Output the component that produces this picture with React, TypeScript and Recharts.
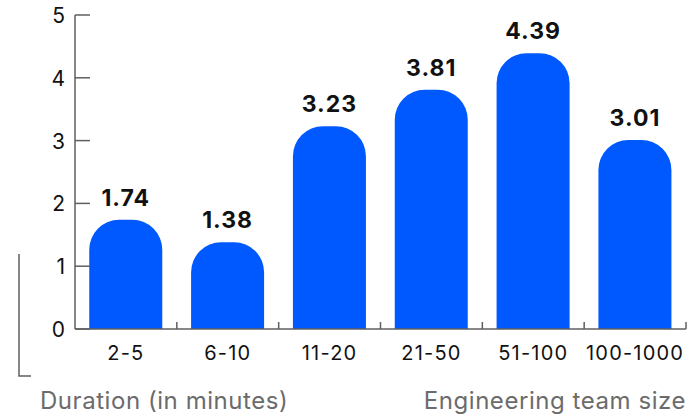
import React from "react";
import { BarChart, Bar, XAxis, YAxis, LabelList } from "recharts";

const teamSizes = ["2-5", "6-10", "11-20", "21-50", "51-100", "100-1000"];
const durations = [1.74, 1.38, 3.23, 3.81, 4.39, 3.01];
const yTicks = [0, 1, 2, 3, 4, 5];

const data = teamSizes.map((size, i) => ({ size, duration: durations[i] }));

const FONT = "Inter, 'Noto Sans', sans-serif";
const AXIS = "#5f5f5f";
const BLUE = "#0058ff";

// y ticks: label on the left, tick mark pointing into the plot
const YTick = (props: any) => {
  const { x, y, payload } = props;
  return (
    <g>
      <text x={x} y={y} dy={8} textAnchor="end" fontSize={21} fill="#111" fontFamily={FONT}>
        {payload.value}
      </text>
      <line x1={x + 10} x2={x + 25} y1={y} y2={y} stroke={AXIS} strokeWidth={1.5} />
    </g>
  );
};

// x ticks: label at band centre, short upward tick at the band's right edge
const XTick = (props: any) => {
  const { x, y, payload, width } = props;
  const half = (width || 611) / teamSizes.length / 2;
  return (
    <g>
      <text
        x={x}
        y={y}
        dy={21}
        textAnchor="middle"
        fontSize={20}
        letterSpacing={1.2}
        fill="#111"
        fontFamily={FONT}
      >
        {payload.value}
      </text>
      <line x1={x + half} x2={x + half} y1={y - 10} y2={y - 17} stroke={AXIS} strokeWidth={1.5} />
    </g>
  );
};

export default function App() {
  return (
    <div style={{ position: "absolute", left: 0, top: 0, width: 689, height: 416, background: "#fff" }}>
      <BarChart
        width={689}
        height={416}
        data={data}
        margin={{ top: 15, right: 3, left: 0, bottom: 47 }}
        barCategoryGap="14%"
      >
        <XAxis
          dataKey="size"
          axisLine={{ stroke: AXIS, strokeWidth: 1.5 }}
          tickLine={false}
          tickSize={0}
          tickMargin={10}
          height={40}
          interval={0}
          tick={<XTick />}
        />
        <YAxis
          domain={[0, 5]}
          ticks={yTicks}
          width={75}
          axisLine={{ stroke: AXIS, strokeWidth: 1.5 }}
          tickLine={false}
          tickSize={0}
          tickMargin={10}
          tick={<YTick />}
        />
        <Bar dataKey="duration" fill={BLUE} radius={[30, 30, 0, 0]} isAnimationActive={false}>
          <LabelList
            dataKey="duration"
            position="top"
            offset={14}
            fill="#111"
            fontSize={23}
            fontWeight={700}
            letterSpacing={1}
            fontFamily={FONT}
          />
        </Bar>
      </BarChart>
      <svg
        width={689}
        height={416}
        style={{ position: "absolute", left: 0, top: 0, pointerEvents: "none" }}
      >
        <polyline points="19,254 19,376 31,376" fill="none" stroke={AXIS} strokeWidth={1.5} />
        <text x={40} y={409} fontSize={24} letterSpacing={0.55} fill="#6b6b6b" fontFamily={FONT}>
          Duration (in minutes)
        </text>
        <text
          x={686}
          y={409}
          textAnchor="end"
          fontSize={24}
          letterSpacing={0.55}
          fill="#6b6b6b"
          fontFamily={FONT}
        >
          Engineering team size
        </text>
      </svg>
    </div>
  );
}
